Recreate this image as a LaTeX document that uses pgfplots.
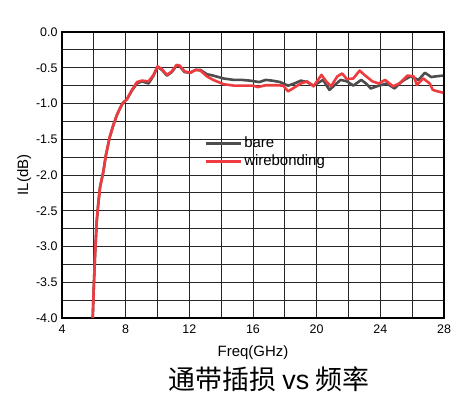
\documentclass[border=0pt]{standalone}
\usepackage{pgfplots}
\pgfplotsset{compat=1.18}
\usepackage{fontspec}
\setmainfont{Liberation Sans}
\newfontfamily\cjk{Noto Sans CJK SC}
\definecolor{bareC}{HTML}{4D4D4D}
\definecolor{wireC}{HTML}{EE3B3F}
\begin{document}
\begin{tikzpicture}
\begin{axis}[
  at={(0,0)}, anchor=south west,
  scale only axis, width=382bp, height=286bp,
  xmin=4, xmax=28, ymin=-4, ymax=0,
  xtick={4,8,...,28}, minor xtick={6,10,...,26},
  ytick={-4,-3.5,...,0}, minor ytick={-3.75,-3.25,...,-0.25},
  grid=both,
  major grid style={draw=black!85, line width=0.9bp},
  minor grid style={draw=black!85, line width=0.9bp},
  major tick length=0pt, minor tick length=0pt,
  axis line style={line width=1.6bp, black},
  tick label style={font=\fontsize{12.5}{14}\selectfont},
  /pgf/number format/assume math mode=true,
  yticklabel style={xshift=-1bp, /pgf/number format/.cd, fixed, fixed zerofill, precision=1},
  xticklabel style={yshift=-3bp, /pgf/number format/.cd, fixed, precision=0},
  label style={font=\fontsize{15}{17}\selectfont},
  xlabel={Freq(GHz)}, ylabel={IL(dB)},
  xlabel style={yshift=-5bp},
  ylabel style={yshift=-2bp},
  legend style={at={(rel axis cs:0.372,0.64)}, anchor=north west, draw=none, fill=none,
    font=\fontsize{15}{17}\selectfont, row sep=1.5bp, inner sep=0pt},
  legend cell align=left,
  legend image code/.code={\draw[#1, line width=3bp] (0bp,0bp) -- (35bp,0bp);},
  every axis plot/.append style={line width=2.6bp, line join=round},
  clip=true,
]
\addplot[color=bareC] coordinates {
(5.93,-4.0) (6.0,-3.55) (6.07,-3.15) (6.18,-2.65) (6.28,-2.40) (6.39,-2.17) (6.6,-1.95)
(6.76,-1.72) (7.0,-1.47) (7.2,-1.32) (7.45,-1.16) (7.64,-1.07) (7.8,-1.0) (8.08,-0.94)
(8.39,-0.82) (8.71,-0.72) (9.02,-0.69) (9.44,-0.72) (9.75,-0.61) (10.0,-0.49) (10.28,-0.53)
(10.59,-0.61) (10.9,-0.56) (11.2,-0.47) (11.4,-0.48) (11.7,-0.56) (12.05,-0.57) (12.4,-0.53)
(12.7,-0.53) (13.1,-0.59) (13.5,-0.61) (14.15,-0.65) (14.8,-0.67) (15.3,-0.67) (15.8,-0.68)
(16.4,-0.70) (16.8,-0.67) (17.2,-0.68) (17.7,-0.70) (18.2,-0.75) (18.6,-0.72) (19.0,-0.68)
(19.4,-0.70) (19.8,-0.75) (20.1,-0.71) (20.4,-0.67) (20.8,-0.81) (21.1,-0.75) (21.5,-0.67)
(21.9,-0.69) (22.3,-0.75) (22.8,-0.67) (23.1,-0.72) (23.4,-0.79) (23.9,-0.75) (24.4,-0.72)
(24.9,-0.79) (25.2,-0.72) (25.5,-0.67) (25.9,-0.62) (26.4,-0.67) (26.8,-0.57) (27.2,-0.63)
(27.5,-0.62) (27.95,-0.61)
};
\addlegendentry{bare}
\addplot[color=wireC] coordinates {
(5.93,-4.0) (6.0,-3.55) (6.07,-3.15) (6.18,-2.65) (6.28,-2.40) (6.39,-2.17) (6.6,-1.95)
(6.76,-1.72) (7.0,-1.47) (7.2,-1.32) (7.45,-1.16) (7.64,-1.07) (7.8,-1.0) (8.08,-0.94)
(8.39,-0.81) (8.71,-0.70) (9.02,-0.68) (9.44,-0.69) (9.75,-0.60) (10.0,-0.48) (10.28,-0.52)
(10.59,-0.60) (10.9,-0.55) (11.2,-0.46) (11.4,-0.47) (11.7,-0.55) (12.05,-0.57) (12.4,-0.53)
(12.7,-0.54) (13.1,-0.62) (13.5,-0.67) (14.15,-0.73) (14.8,-0.75) (15.5,-0.75) (16.0,-0.75)
(16.3,-0.77) (16.8,-0.745) (17.5,-0.745) (17.9,-0.75) (18.2,-0.83) (18.5,-0.79) (19.0,-0.72)
(19.4,-0.69) (19.8,-0.76) (20.3,-0.60) (20.6,-0.69) (20.9,-0.76) (21.3,-0.62) (21.6,-0.58)
(21.9,-0.66) (22.3,-0.65) (22.7,-0.54) (23.0,-0.60) (23.5,-0.69) (23.9,-0.72) (24.3,-0.67)
(24.8,-0.76) (25.2,-0.72) (25.7,-0.61) (26.1,-0.62) (26.3,-0.74) (26.7,-0.65) (27.1,-0.72)
(27.3,-0.81) (27.6,-0.83) (27.95,-0.85)
};
\addlegendentry{wirebonding}
\end{axis}
\node at (207bp,-61bp) {\cjk\fontsize{27}{29}\selectfont 通带插损 {\fontspec{Liberation Sans}vs} 频率};
\path (-62bp,-79bp) rectangle (411bp,318bp);
\end{tikzpicture}
\end{document}
